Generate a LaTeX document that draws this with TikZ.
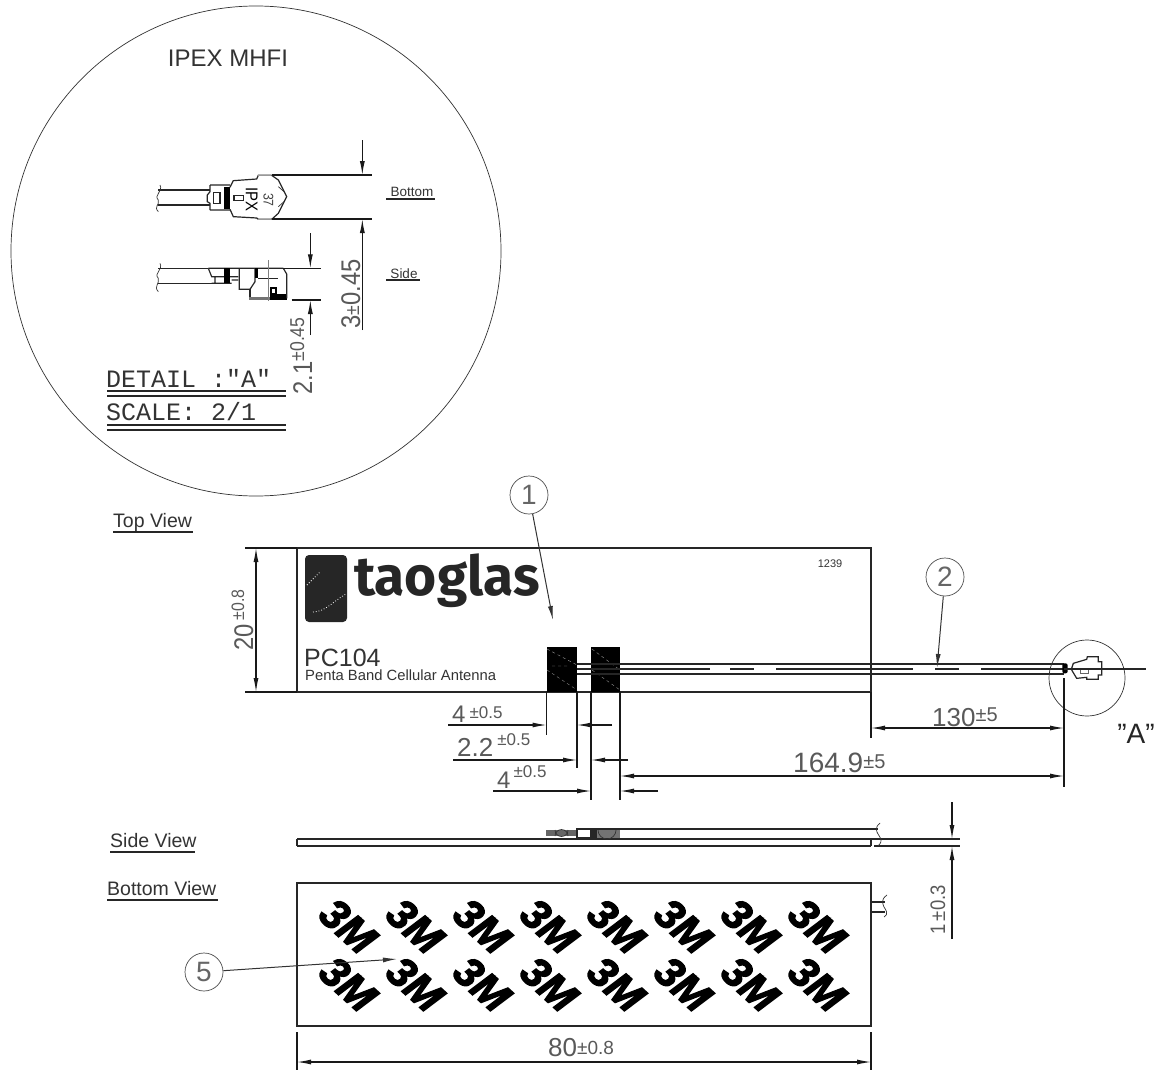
\documentclass[tikz,border=0pt]{standalone}
\usepackage{fontspec}
\setmainfont{Liberation Sans}
\newfontfamily\cadmono{Liberation Mono}
\newfontfamily\logofont{Fira Sans}
\newfontfamily\cadf[FakeStretch=0.88]{Liberation Sans}
\newfontfamily\threef[FakeBold=3]{Liberation Sans}
\usetikzlibrary{arrows.meta}
\newcommand\fs[1]{\fontsize{#1}{#1}\selectfont}
\tikzset{
  ln/.style={line width=1.2pt,black!85},
  thin ln/.style={line width=.7pt,black!80},
  under/.style={line width=1.1pt,black!85},
  dimline/.style={line width=1.1pt,black!90},
  tip/.style={-{Latex[length=14pt,width=5pt]}},
  both/.style={{Latex[length=14pt,width=5pt]}-{Latex[length=14pt,width=5pt]}},
  lab/.style={inner sep=0pt,text=black!80},
  dimtext/.style={inner sep=0pt,text=black!65},
  balloon/.style={circle,draw=black!70,line width=.7pt,minimum size=38pt,inner sep=0pt,text=black!60,font=\fs{28}},
  threem/.style={inner sep=0pt,rotate=-42,font=\threef\fs{42}\bfseries\itshape,text=black},
}
\begin{document}
\begin{tikzpicture}[x=1pt,y=-1pt]
\useasboundingbox (0,0) rectangle (1158,1070);
\fill[white] (0,0) rectangle (1158,1070);
% big detail circle
\draw[thin ln] (256,251) circle (245);
\node[lab,font=\fs{24}] (ipex) at (228,58) {IPEX MHFI};
% connector detail, zoom coords
\begin{scope}[shift={(130,150)},x=.33333pt,y=-.33333pt]
 % bottom view
 \draw[ln] (85,120)--(240,120) (85,165)--(240,165);
 \draw[thin ln] (90,105) .. controls (100,125) and (70,135) .. (85,150) .. controls (90,165) and (70,170) .. (85,185);
 \draw[ln] (240,105)--(300,105) (240,180)--(300,180) (240,105)--(240,125)--(232,135)--(232,155)--(240,160)--(240,180);
 \draw[ln] (250,127) rectangle (270,160);
 \fill[black] (283,112) rectangle (300,178);
 \draw[ln] (300,112)--(310,92)--(380,87)--(385,76)--(425,76) (300,178)--(310,200)--(380,204)--(385,208)--(425,208);
 \draw[thin ln,black!40] (385,76)--(425,76) (385,208)--(425,208);
 \draw[ln] (425,76)--(445,90)--(470,140)--(445,190)--(425,208);
 \draw[thin ln] (445,110)--(462,125) (445,170)--(462,155);
 \draw[ln] (312,137) rectangle (340,152);
 \node[inner sep=0pt,rotate=-90,font=\cadf\fs{17}] (ipx) at (365,148) {IPX};
 \node[inner sep=0pt,rotate=-90,font=\cadf\fs{14},text=black!75] (n37) at (415,150) {37};
 \draw[dimline] (425,75)--(725,75) (425,207)--(725,207);
 \draw[dimline,tip] (697,-30)--(697,75);
 \draw[dimline,tip] (697,540)--(697,207);
 % side view
 \draw[ln] (85,355)--(235,355) (85,400)--(245,400);
 \draw[thin ln] (90,340) .. controls (100,360) and (70,370) .. (85,385) .. controls (90,400) and (70,410) .. (85,425);
 \draw[ln] (235,355)--(460,355) (235,355)--(245,380)--(255,380)--(255,400) (255,380)--(325,380) (245,400)--(305,400) (305,390)--(325,390);
 \fill[black] (282,355) rectangle (300,400);
 \draw[ln] (328,355)--(328,418)--(360,418)--(375,395)--(375,355);
 \fill[black] (376,355) rectangle (384,385);
 \draw[ln] (385,385)--(445,385) (360,418)--(360,445);
 \fill[black!55] (357,440) rectangle (420,449);
 \fill[black] (420,432) rectangle (472,449);
 \fill[black] (420,412) rectangle (442,440);
 \fill[white] (427,418) rectangle (436,428);
 \draw[ln] (460,355)--(470,372)--(470,445);
 \draw[thin ln,black!50] (415,330)--(415,452);
 \draw[dimline] (460,355)--(573,355) (485,450)--(573,450);
 \draw[dimline,tip] (541,250)--(541,355);
 \draw[dimline,tip] (541,555)--(541,450);
\end{scope}
\node[dimtext,rotate=90,anchor=base,font=\cadf\fs{27}] (d3) at (360,294) {3\raisebox{1pt}{\fs{20}±}0.45};
\node[dimtext,rotate=90,anchor=base,font=\cadf\fs{27}] (d21) at (312,356) {2.1\raisebox{8pt}{\fs{20}±0.45}};
\node[lab,font=\fs{13.5}] (bottomlab) at (412,192) {Bottom};
\draw[under] (386,199)--(435,199);
\node[lab,font=\fs{13.5}] (sidelab) at (404,274) {Side};
\draw[under] (386,280)--(420,280);
\node[lab,font=\cadmono\fs{25},anchor=west] (detail) at (106,378) {DETAIL :"A"};
\draw[under] (107,391)--(286,391) (107,396)--(286,396);
\node[lab,font=\cadmono\fs{25},anchor=west] (scale) at (106,412) {SCALE: 2/1};
\draw[under] (107,425)--(286,425) (107,430)--(286,430);
% view labels
\node[lab,font=\fs{19.5},anchor=base west] (topv) at (113,527) {Top View};
\draw[under] (113,532)--(193,532);
\node[lab,font=\fs{19.5},anchor=base west] (sidev) at (110,847) {Side View};
\draw[under] (110,852)--(195,852);
\node[lab,font=\fs{19.5},anchor=base west] (botv) at (107,895) {Bottom View};
\draw[under] (107,900)--(218,900);
% top view
\draw[ln] (297,548) rectangle (871,692);
\fill[black!85,rounded corners=4pt] (305,555) rectangle (347,622);
\draw[white,line width=.8pt,dotted] (307,585)--(320,572) (313,612) .. controls (325,612) and (335,600) .. (346,594);
\node[inner sep=0pt,anchor=base west,font=\logofont\fs{55}\bfseries,text=black!85] (logo) at (354,595) {taoglas};
\node[lab,font=\fs{25},anchor=base west] (pc) at (304,666) {PC104};
\node[lab,font=\fs{14.8},anchor=base west] (penta) at (305,680) {Penta Band Cellular Antenna};
\node[lab,font=\fs{11}] (n1239) at (830,564) {1239};
\fill[black] (546.5,647) rectangle (577,692);
\fill[black] (591,647) rectangle (620,692);
\draw[line width=.4pt,white!60!black,dashed] (547,649)--(577,665) (547,670)--(577,690) (592,649)--(620,670) (592,670)--(620,690) (552,666)--(567,666);
\draw[ln] (577,664)--(1064,664) (577,674)--(1064,674);
\draw[ln] (577,669)--(710,669) (730,669)--(754,669) (776,669)--(913,669) (935,669)--(959,669) (981,669)--(1064,669);
% connector at A
\begin{scope}[shift={(860,620)},x=.33333pt,y=-.33333pt]
 \fill[black,rounded corners=2pt] (607,130) rectangle (623,160);
 \draw[ln] (635,145)--(640,130)--(680,118)--(682,110)--(715,110)--(715,125)--(725,125)--(725,165)--(715,165)--(715,178)--(680,178)--(680,172)--(650,175)--(635,150);
 \draw[thin ln,black!60] (660,145) rectangle (685,160);
\end{scope}
\draw[thin ln] (1087,678) circle (38);
\draw[ln] (1064,669)--(1146,669);
% dimensions top view
\draw[dimline] (245,548)--(297,548) (245,692)--(297,692);
\draw[dimline,both] (256,548)--(256,692);
\node[dimtext,rotate=90,anchor=base,font=\cadf\fs{27}] (d20) at (253,620) {20\hspace{4pt}\raisebox{9pt}{\fs{18}±0.8}};
\draw[dimline] (546.5,692)--(546.5,735) (577,692)--(577,768) (591,692)--(591,800) (620,692)--(620,800) (871,692)--(871,738) (1064,678)--(1064,787);
\draw[dimline,tip] (448,725)--(546.5,725);
\draw[dimline,tip] (612,725)--(577,725);
\draw[dimline,tip] (453,760)--(577,760);
\draw[dimline,tip] (628,760)--(591,760);
\draw[dimline,tip] (493,791)--(591,791);
\draw[dimline,tip] (658,791)--(620,791);
\draw[dimline,both] (871,728)--(1064,728);
\draw[dimline,both] (620,776)--(1064,776);
\node[dimtext,anchor=base west,font=\fs{24}] (d4a) at (452,722) {4\hspace{4pt}\raisebox{4pt}{\fs{17}±0.5}};
\node[dimtext,anchor=base west,font=\fs{26}] (d22) at (457,756) {2.2\hspace{4pt}\raisebox{11pt}{\fs{17}±0.5}};
\node[dimtext,anchor=base west,font=\fs{24}] (d4b) at (497,788) {4\hspace{3pt}\raisebox{11pt}{\fs{17}±0.5}};
\node[dimtext,anchor=base west,font=\fs{26}] (d130) at (932,726) {130\raisebox{5pt}{\fs{20}±5}};
\node[dimtext,anchor=base west,font=\fs{28}] (d165) at (793,772) {164.9\raisebox{4pt}{\fs{20}±5}};
\node[lab,font=\fs{28},text=black!85] (labA) at (1136,734) {"A"};
% balloons
\node[balloon] (b1) at (529,495) {1};
\node[balloon] (b2) at (945,577) {2};
\node[balloon] (b5) at (204,972) {5};
\coordinate (t1) at (553,620);
\coordinate (t2) at (937,668);
\coordinate (t5) at (397,959);
% side view
\draw[ln] (297,839)--(960,839) (297,846)--(871,846) (874,846)--(960,846) (297,839)--(297,846) (871,840)--(871,846);
\draw[ln] (577,829)--(878,829);
\fill[black!60] (546,830) rectangle (577,836);
\fill[black!85] (591,830) rectangle (597,838);
\fill[black!55] (597,830) rectangle (620,838);
\draw[ln] (577,829) rectangle (591,838);
\draw[thin ln] (555,830) arc (180:0:6.5) (555,836) arc (180:360:6.5);
\draw[thin ln] (598,830) arc (180:0:9);
\draw[thin ln] (880,823) .. controls (874,828) and (877,832) .. (878,834) .. controls (880,838) and (884,840) .. (878,846);
\draw[dimline,tip] (952,802)--(952,839);
\draw[dimline,tip] (952,939)--(952,846);
\node[dimtext,rotate=90,anchor=base,font=\cadf\fs{21}] (d1) at (945,910) {1\,\fs{21}±0.3};
% bottom view
\draw[ln] (297,883) rectangle (871,1026);
\draw[ln] (871,902)--(885,902) (871,912)--(885,912);
\draw[thin ln] (887,895) .. controls (880,900) and (883,904) .. (884,907) .. controls (886,910) and (889,914) .. (884,917);
\foreach \c [count=\i] in {0,...,7}{
  \node[threem] (ta\i) at ({348+67*\c},926) {3M};
  \node[threem] (tb\i) at ({348+67*\c},984) {3M};
}
\draw[dimline] (297,1032)--(297,1070) (871,1032)--(871,1070);
\draw[dimline,both] (297,1062)--(871,1062);
\node[dimtext,anchor=base west,font=\fs{26}] (d80) at (548,1056) {80\raisebox{2pt}{\fs{19}±0.8}};
% leaders
\draw[thin ln,line width=1pt,tip] (b1)--(t1);
\draw[thin ln,line width=1pt,tip] (b2)--(t2);
\draw[thin ln,line width=1pt,tip] (b5)--(t5);
\end{tikzpicture}
\end{document}
